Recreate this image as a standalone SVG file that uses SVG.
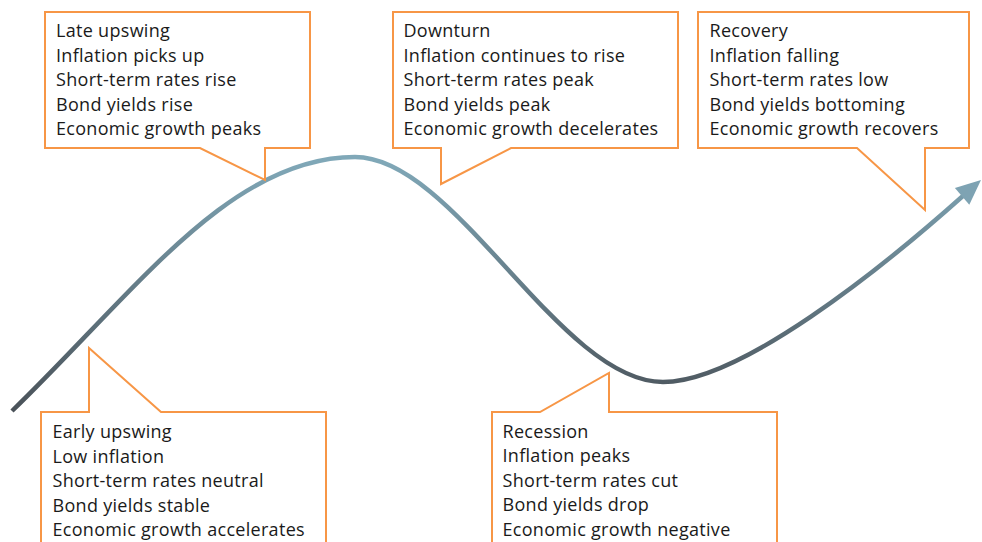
<svg xmlns="http://www.w3.org/2000/svg" width="982" height="542" viewBox="0 0 982 542">
  <style>
    .callout { fill: #ffffff; stroke: #f79646; stroke-width: 2; stroke-linejoin: miter; }
    .label { font-family: "Open Sans", "Liberation Sans", sans-serif; font-size: 18px; letter-spacing: 0.3px; fill: #1a1a1a; }
  </style>
  <defs>
    <linearGradient id="curveGrad" gradientUnits="userSpaceOnUse" x1="0" y1="160" x2="0" y2="410">
      <stop offset="0" stop-color="#80a8b8"/>
      <stop offset="1" stop-color="#4a5259"/>
    </linearGradient>
  </defs>
  <rect width="982" height="542" fill="#ffffff"/>

  <g id="connectors">
    <path d="M12,411 C135,292 230,157 355,157 C455,157 560,382 663,382 C740,382 880,270 964,195" fill="none" stroke="url(#curveGrad)" stroke-width="4.5"/>
    <polygon points="981,180 954.9,188.1 969.3,204.7" fill="#7ea3b3"/>
  </g>

  <g id="late-upswing">
    <path class="callout" d="M45,12 H310 V148 H265 V180 L200,148 H45 Z"/>
    <text class="label" x="56" y="37">Late upswing</text>
    <text class="label" x="56" y="61.5">Inflation picks up</text>
    <text class="label" x="56" y="86">Short-term rates rise</text>
    <text class="label" x="56" y="110.5">Bond yields rise</text>
    <text class="label" x="56" y="135">Economic growth peaks</text>
  </g>

  <g id="downturn">
    <path class="callout" d="M393,12 H678 V148 H511 L441,184 V148 H393 Z"/>
    <text class="label" x="403.5" y="37">Downturn</text>
    <text class="label" x="403.5" y="61.5">Inflation continues to rise</text>
    <text class="label" x="403.5" y="86">Short-term rates peak</text>
    <text class="label" x="403.5" y="110.5">Bond yields peak</text>
    <text class="label" x="403.5" y="135">Economic growth decelerates</text>
  </g>

  <g id="recovery">
    <path class="callout" d="M698,12 H969 V148 H925 V210 L857,148 H698 Z"/>
    <text class="label" x="709.5" y="37">Recovery</text>
    <text class="label" x="709.5" y="61.5">Inflation falling</text>
    <text class="label" x="709.5" y="86">Short-term rates low</text>
    <text class="label" x="709.5" y="110.5">Bond yields bottoming</text>
    <text class="label" x="709.5" y="135">Economic growth recovers</text>
  </g>

  <g id="early-upswing">
    <path class="callout" d="M41,412 H89 V348 L161,412 H326 V560 H41 Z"/>
    <text class="label" x="52.5" y="438">Early upswing</text>
    <text class="label" x="52.5" y="462.5">Low inflation</text>
    <text class="label" x="52.5" y="487">Short-term rates neutral</text>
    <text class="label" x="52.5" y="511.5">Bond yields stable</text>
    <text class="label" x="52.5" y="536">Economic growth accelerates</text>
  </g>

  <g id="recession">
    <path class="callout" d="M492,412 H540 L609,373 V412 H777 V560 H492 Z"/>
    <text class="label" x="502.5" y="437.5">Recession</text>
    <text class="label" x="502.5" y="462">Inflation peaks</text>
    <text class="label" x="502.5" y="486.5">Short-term rates cut</text>
    <text class="label" x="502.5" y="511">Bond yields drop</text>
    <text class="label" x="502.5" y="535.5">Economic growth negative</text>
  </g>
</svg>
